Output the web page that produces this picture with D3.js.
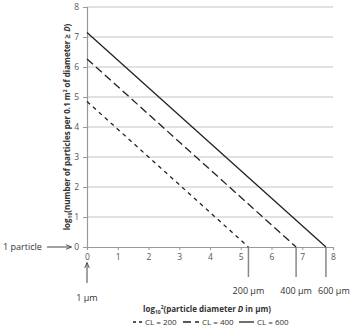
<!DOCTYPE html>
<html>
<head>
<meta charset="utf-8">
<script src="https://d3js.org/d3.v7.min.js"></script>
<style>
  body { margin: 0; background: #fff; }
  svg text { font-family: "Open Sans", sans-serif; fill: #333; }
  .tick text { fill: #555; font-size: 8.5px; }
</style>
</head>
<body>
<svg id="chart" width="350" height="332"></svg>
<script>
// data
var xTicks = [0, 1, 2, 3, 4, 5, 6, 7, 8];
var yTicks = [0, 1, 2, 3, 4, 5, 6, 7, 8];
var seriesNames = ["CL = 200", "CL = 400", "CL = 600"];
var cl200 = [[0, 4.85], [5.25, 0]];
var cl400 = [[0, 6.27], [6.8, 0]];
var cl600 = [[0, 7.15], [7.77, 0]];
var sizeLabels = ["200 µm", "400 µm", "600 µm"];
var sizeValues = [5.25, 6.8, 7.77];

var svg = d3.select("#chart");
var x = d3.scaleLinear().domain([0, 8]).range([87, 333]);
var y = d3.scaleLinear().domain([0, 8]).range([247, 7]);

// grid
svg.append("g").selectAll("line")
   .data(yTicks.filter(function(d) { return d > 0; }))
   .enter().append("line")
   .attr("x1", x(0)).attr("x2", x(8))
   .attr("y1", function(d) { return y(d); })
   .attr("y2", function(d) { return y(d); })
   .attr("stroke", "#c4c4c4").attr("stroke-width", 1.2);

var yAxis = d3.axisLeft(y).tickValues(yTicks).tickSize(4).tickPadding(4).tickFormat(d3.format("d"));
var gy = svg.append("g").attr("transform", "translate(" + x(0) + ",0)").call(yAxis);
var xAxis = d3.axisBottom(x).tickValues(xTicks).tickSize(3).tickPadding(4).tickFormat(d3.format("d"));
var gx = svg.append("g").attr("transform", "translate(0," + y(0) + ")").call(xAxis);
[gx, gy].forEach(function(g) {
  g.select(".domain").attr("stroke", "#999").attr("stroke-width", 1.2);
  g.selectAll(".tick line").attr("stroke", "#999");
});

// drop lines to the particle sizes
svg.append("g").selectAll("line")
   .data(sizeValues)
   .enter().append("line")
   .attr("x1", function(d) { return x(d); }).attr("x2", function(d) { return x(d); })
   .attr("y1", y(0)).attr("y2", y(0) + 30)
   .attr("stroke", "#888").attr("stroke-width", 1.5);

svg.append("g").selectAll("text")
   .data(sizeLabels)
   .enter().append("text")
   .attr("x", function(d, i) { return x(sizeValues[i]) + (i == 2 ? 8 : 0); })
   .attr("y", 294)
   .attr("text-anchor", "middle")
   .style("font-size", "9px")
   .text(function(d) { return d; });

// lines
var line = d3.line().x(function(d) { return x(d[0]); }).y(function(d) { return y(d[1]); });
var dashes = ["4,4", "8,4", null];
[cl200, cl400, cl600].forEach(function(s, i) {
  svg.append("path").datum(s)
     .attr("d", line)
     .attr("fill", "none")
     .attr("stroke", "#222")
     .attr("stroke-width", 1.3)
     .attr("stroke-dasharray", dashes[i]);
});

// arrows
svg.append("defs").append("marker")
   .attr("id", "arr").attr("viewBox", "0 0 10 10").attr("refX", 9).attr("refY", 5)
   .attr("markerWidth", 6).attr("markerHeight", 6).attr("orient", "auto")
   .append("path").attr("d", "M0,1L10,5L0,9").attr("fill", "none").attr("stroke", "#444").attr("stroke-width", 1.5);

svg.append("line").attr("x1", 47).attr("x2", 71).attr("y1", y(0)).attr("y2", y(0))
   .attr("stroke", "#444").attr("marker-end", "url(#arr)");
svg.append("text").attr("x", 3).attr("y", y(0) + 3).style("font-size", "9px").text("1 particle");

svg.append("line").attr("x1", x(0)).attr("x2", x(0)).attr("y1", 283).attr("y2", 263)
   .attr("stroke", "#444").attr("marker-end", "url(#arr)");
svg.append("text").attr("x", x(0)).attr("y", 301).attr("text-anchor", "middle").style("font-size", "9px").text("1 µm");

// axis titles
var xt = svg.append("text").attr("x", 207).attr("y", 312).attr("text-anchor", "middle")
   .style("font-size", "8px").style("font-weight", "bold");
xt.append("tspan").text("log");
xt.append("tspan").attr("dy", 2).style("font-size", "5px").text("10");
xt.append("tspan").attr("dy", -5).style("font-size", "5px").text("2");
xt.append("tspan").attr("dy", 3).text("(particle diameter ");
xt.append("tspan").style("font-style", "italic").text("D");
xt.append("tspan").text(" in µm)");

var yt = svg.append("text").attr("transform", "translate(70,127) rotate(-90)").attr("text-anchor", "middle")
   .style("font-size", "8px").style("font-weight", "bold");
yt.append("tspan").text("log");
yt.append("tspan").attr("dy", 2).style("font-size", "5px").text("10");
yt.append("tspan").attr("dy", -2).text("(number of particles per 0.1 m");
yt.append("tspan").attr("dy", -3).style("font-size", "5px").text("2");
yt.append("tspan").attr("dy", 3).text(" of diameter ≥ ");
yt.append("tspan").style("font-style", "italic").text("D");
yt.append("tspan").text(")");

// legend
var legX = [133, 183, 239];
var legW = [9, 16, 15];
var leg = svg.append("g").selectAll("g")
   .data(seriesNames)
   .enter().append("g")
   .attr("transform", function(d, i) { return "translate(" + legX[i] + ",325)"; });
leg.append("line").attr("x1", 0).attr("x2", function(d, i) { return legW[i]; })
   .attr("y1", -3).attr("y2", -3)
   .attr("stroke", "#222").attr("stroke-width", 1.3)
   .attr("stroke-dasharray", function(d, i) { return i == 0 ? "3,3" : dashes[i]; });
leg.append("text").attr("x", function(d, i) { return legW[i] + 3; }).attr("y", 0)
   .style("font-size", "8px").text(function(d) { return d; });
</script>
</body>
</html>
